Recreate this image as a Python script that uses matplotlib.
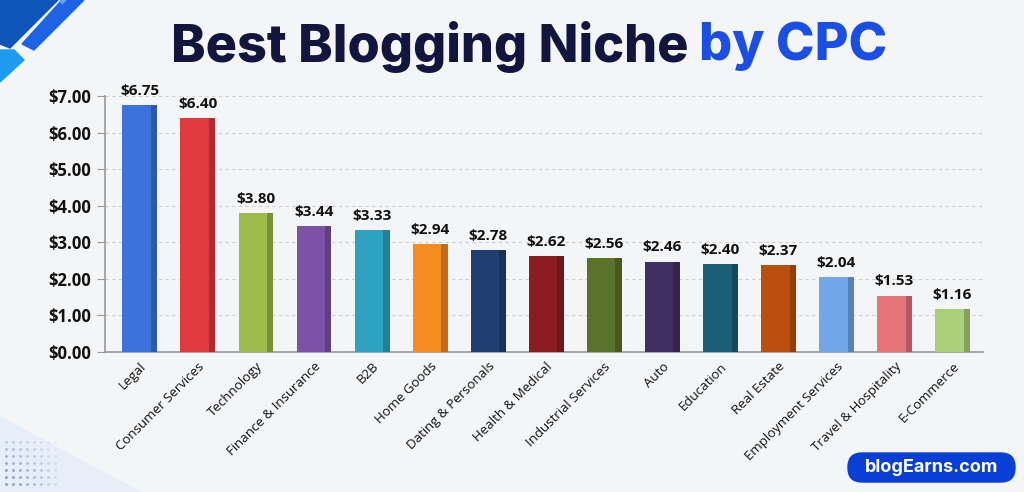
import numpy as np
import matplotlib.pyplot as plt
from matplotlib.patches import Polygon, FancyBboxPatch
from matplotlib.colors import to_rgb

# chart data
niches = ["Legal", "Consumer Services", "Technology", "Finance & Insurance", "B2B",
          "Home Goods", "Dating & Personals", "Health & Medical", "Industrial Services",
          "Auto", "Education", "Real Estate", "Employment Services",
          "Travel & Hospitality", "E-Commerce"]
cpc = [6.75, 6.40, 3.80, 3.44, 3.33, 2.94, 2.78, 2.62, 2.56, 2.46, 2.40, 2.37, 2.04, 1.53, 1.16]
bar_colors = ["#3b72db", "#e0393e", "#9bbb4a", "#7b52a8", "#2ea3c1", "#f68c1f", "#1f3f73",
              "#8c1c22", "#5a7329", "#3f2f63", "#1a5f75", "#b9500e", "#71a6e8",
              "#e7747a", "#a9cf78"]
yticks = [0, 1, 2, 3, 4, 5, 6, 7]

W, H = 1024, 492
fig = plt.figure(figsize=(W / 100, H / 100), dpi=100)
fig.patch.set_facecolor("#f4f5f7")


def px(pts):
    # pixel coords (from top-left) -> figure fraction
    return [[x / W, 1 - y / H] for x, y in pts]


def deco(pts, col):
    fig.patches.append(Polygon(px(pts), closed=True, transform=fig.transFigure,
                               color=col, zorder=-5))


# background decorations
deco([(0, 0), (58, 0), (10, 48), (0, 44)], "#0d56b8")
deco([(62, 0), (84, 0), (34, 50), (22, 44)], "#1e63e6")
deco([(60, 0), (66, 0), (62, 4)], "#5aa8f0")
deco([(0, 50), (14, 50), (24, 60), (0, 82)], "#1d9bf0")
deco([(0, 417), (140, 492), (0, 492)], "#e8eef7")
dx, dy = np.meshgrid(np.arange(8) * 7 + 6, np.arange(7) * 7 + 442)
for xx, yy in zip(dx.ravel(), dy.ravel()):
    a = max(0.15, 1 - (xx - 6) / 60) * min(1, 0.35 + (yy - 442) / 50)
    fig.add_artist(plt.Line2D([xx / W], [1 - yy / H], ls="none", marker="o", ms=1.3,
                              color="#9aa3d6", alpha=a, transform=fig.transFigure,
                              zorder=-4))

fig.text(0.683, 0.905, "Best Blogging Niche ", ha="right", va="center", fontsize=37.5,
         fontweight="heavy", family="Inter", color="#12163f")
fig.text(0.683, 0.905, "by CPC", ha="left", va="center", fontsize=37.5,
         fontweight="heavy", family="Inter", color="#1b4fe3")

ax = fig.add_axes([104.7 / W, 1 - 351.5 / H, 878.6 / W, 255.5 / H])
ax.set_facecolor("none")
x = np.arange(len(niches))
front_w, side_w = 0.49, 0.11
sides = [tuple(c * 0.78 for c in to_rgb(col)) for col in bar_colors]
ax.bar(x, cpc, width=front_w, color=bar_colors, zorder=3)
ax.bar(x + (front_w + side_w) / 2, cpc, width=side_w, color=sides, zorder=3)
for xi, v in zip(x, cpc):
    ax.text(xi + 0.05, v + 0.2, f"${v:.2f}", ha="center", va="bottom", fontsize=11,
            fontweight="bold", family="Open Sans", color="#111111")

ax.set_xlim(-0.55, 14.58)
ax.set_ylim(0, 7)
ax.set_yticks(yticks)
ax.set_yticklabels([f"${t:.2f}" for t in yticks], fontsize=12, fontweight="bold",
                   family="Open Sans", color="#111111")
ax.set_xticks(x + 0.05)
ax.set_xticklabels(niches, rotation=45, ha="right", rotation_mode="anchor",
                   fontsize=9.5, family="Open Sans", color="#111111")
ax.tick_params(axis="x", length=0, pad=6)
ax.tick_params(axis="y", length=6, color="#999999", pad=4)
ax.grid(axis="y", ls=(0, (3, 3)), color="#d0d0d0", lw=0.8, zorder=0)
for s in ["top", "right"]:
    ax.spines[s].set_visible(False)
ax.spines["left"].set_color("#999999")
ax.spines["bottom"].set_color("#999999")
ax.spines["left"].set_linewidth(1.2)
ax.spines["bottom"].set_linewidth(1.2)

# brand badge bottom right
fig.patches.append(FancyBboxPatch((848 / W, 10 / H), 167 / W, 29 / H,
                                  boxstyle="round,pad=0,rounding_size=%f" % (14 / W),
                                  mutation_aspect=W / H,
                                  transform=fig.transFigure, color="#0a3fd6", zorder=2))
fig.text(931.5 / W, 25 / H, "blogEarns.com", ha="center", va="center", fontsize=13,
         fontweight="bold", family="Inter", color="white", zorder=3)

fig.savefig("out.png", dpi=100, facecolor=fig.get_facecolor())
